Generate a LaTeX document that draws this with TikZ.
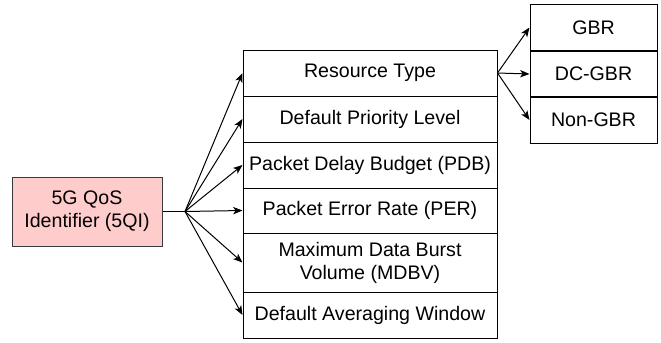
\documentclass[tikz,border=0pt]{standalone}
\usepackage{fontspec}
\setmainfont{Liberation Sans}
\usetikzlibrary{positioning,arrows.meta}
\definecolor{qospink}{HTML}{FFCCCC}
\definecolor{qosedge}{HTML}{36393D}

\begin{document}
\begin{tikzpicture}[x=0.75pt, y=-0.75pt, line width=0.75pt,
        font=\fontsize{14.7}{17.2}\selectfont,
        field/.style={draw, rectangle, minimum width=190.5pt, minimum height=34.5pt, inner sep=0pt, align=center},
        restype/.style={draw, rectangle, minimum width=95.25pt, minimum height=35.25pt, inner sep=0pt},
        link/.style={-{Stealth[length=7pt, width=5.5pt, inset=1.8pt]}}]
        \useasboundingbox (0,0) rectangle (661,343);
        \node [draw=qosedge, fill=qospink, minimum width=112.5pt, minimum height=51.75pt, align=center] (qfi) at (87,211.5) {5G QoS\\Identifier (5QI)};
        \node [field] (rtype) at (370,73) {Resource Type};
        \node [field] (prio) at (370,119) {Default Priority Level};
        \node [field] (pdb) at (370,165) {Packet Delay Budget (PDB)};
        \node [field, minimum height=33.75pt] (per) at (370,210.5) {Packet Error Rate (PER)};
        \node [field, minimum height=44.25pt] (mdbv) at (370,262.5) {Maximum Data Burst\\Volume (MDBV)};
        \node [field] (avgwin) at (370,315) {Default Averaging Window};
        \node [restype] (gbr) at (593.5,27.5) {GBR};
        \node [restype] (dcgbr) at (593.5,74) {DC-GBR};
        \node [restype] (nongbr) at (593.5,120) {Non-GBR};
        \coordinate (fan) at (185,211.5);
        \draw (qfi) -- (fan);
        \foreach \f in {rtype,prio,pdb,per,mdbv,avgwin}
            \draw [link] (fan) -- (\f.west);
        \foreach \r in {gbr,dcgbr,nongbr}
            \draw [link] (rtype.east) -- (\r.west);
    \end{tikzpicture}
\end{document}
